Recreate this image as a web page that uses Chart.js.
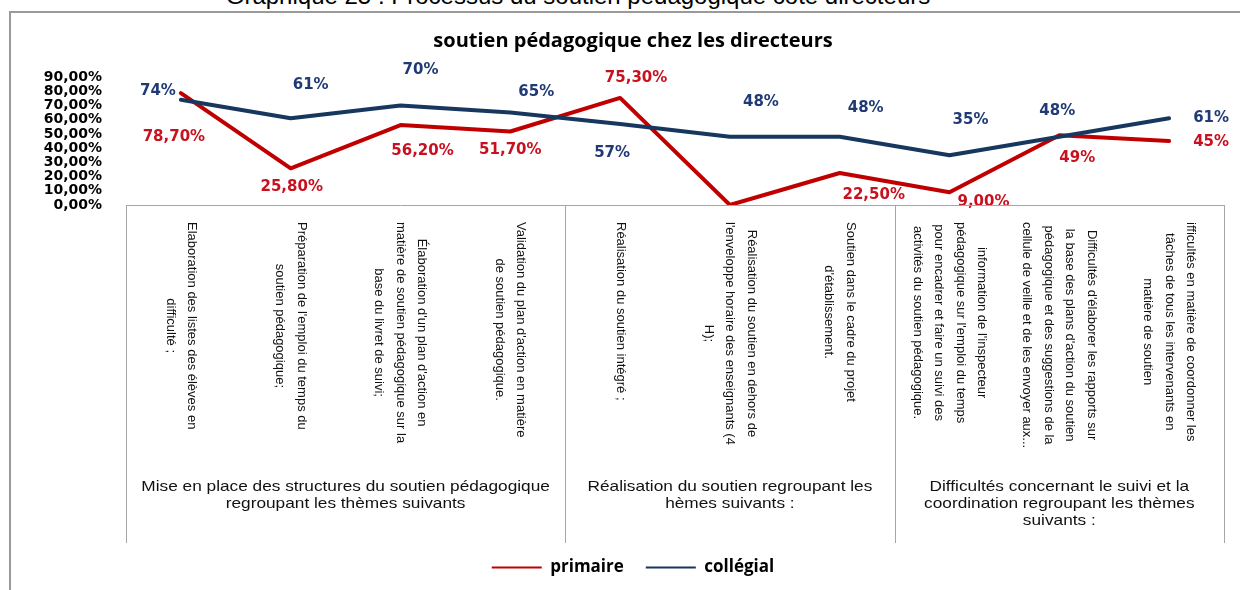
<!DOCTYPE html>
<html lang="fr">
<head>
<meta charset="utf-8">
<title>soutien pédagogique chez les directeurs</title>
<script src="https://cdn.jsdelivr.net/npm/chart.js@4.4.0/dist/chart.umd.min.js"></script>
<style>
  html, body { margin:0; padding:0; background:#fff; overflow:hidden; }
  #wrap { position:relative; width:1240px; height:590px; overflow:hidden; }
  #caption { position:absolute; left:0; width:1156px; top:-16px; text-align:center; font:24px/24px "Liberation Sans", sans-serif; color:#000; white-space:nowrap; }
  #frame { position:absolute; left:9px; top:11px; width:1300px; height:700px; border-left:2px solid #9a9a9a; border-top:2px solid #9a9a9a; }
  canvas { position:absolute; left:0; top:0; }
</style>
</head>
<body>
<div id="wrap">
  <div id="caption">Graphique 25 : Processus du soutien pédagogique côté directeurs</div>
  <div id="frame"></div>
  <canvas id="chart" width="1240" height="590"></canvas>
</div>
<script>
// categories (wrapped the way the axis shows them)
const categories = [
  ["Elaboration des listes des élèves en", "difficulté ;"],
  ["Préparation de l'emploi du temps du", "soutien pédagogique;"],
  ["Élaboration d'un plan d'action en", "matière de soutien pédagogique sur la", "base du livret de suivi;"],
  ["Validation du plan d'action en matière", "de soutien pédagogique."],
  ["Réalisation du soutien intégré ;"],
  ["Réalisation du soutien en dehors de", "l'enveloppe horaire des enseignants (4", "H);"],
  ["Soutien dans le cadre du projet", "d'établissement."],
  ["information de l'inspecteur", "pédagogique sur l'emploi du temps", "pour encadrer et faire un suivi des", "activités du soutien pédagogique."],
  ["Difficultés d'élaborer les rapports sur", "la base des plans d'action du soutien", "pédagogique et des suggestions de la", "cellule de veille et de les envoyer aux..."],
  ["ifficultés en matière de coordonner les", "tâches de tous les intervenants en", "matière de soutien"]
];
const groupNames = [
  ["Mise en place des structures du soutien pédagogique", "regroupant les thèmes suivants"],
  ["Réalisation du soutien regroupant les", "hèmes suivants :"],
  ["Difficultés concernant le suivi et la", "coordination regroupant les thèmes", "suivants :"]
];
const groupSizes = [4, 3, 3];

const primaire = [78.7, 25.8, 56.2, 51.7, 75.3, 0, 22.5, 9.0, 49, 45];
const collegial = [74, 61, 70, 65, 57, 48, 48, 35, 48, 61];
const primaireText = ["78,70%", "25,80%", "56,20%", "51,70%", "75,30%", "", "22,50%", "9,00%", "49%", "45%"];
const collegialText = ["74%", "61%", "70%", "65%", "57%", "48%", "48%", "35%", "48%", "61%"];

const yMin = 0, yMax = 90, yStep = 10;

// data labels next to the points
const pointLabels = {
  id: 'pointLabels',
  afterDatasetsDraw(chart){
    const ctx = chart.ctx;
    ctx.save();
    ctx.font = 'bold 15px "DejaVu Sans"';
    ctx.textAlign = 'center';
    ctx.textBaseline = 'middle';
    chart.data.datasets.forEach((ds, i) => {
      const meta = chart.getDatasetMeta(i);
      ctx.fillStyle = ds.labelColor;
      meta.data.forEach((pt, j) => {
        const t = ds.labelText[j];
        if(!t) return;
        const [dx, dy] = ds.labelOffsets[j];
        ctx.fillText(t, pt.x + dx, pt.y + dy);
      });
    });
    ctx.restore();
  }
};

// two-level category axis drawn as a table under the plot
const axisTable = {
  id: 'axisTable',
  afterDraw(chart){
    const {ctx, chartArea} = chart;
    const x = chart.scales.x;
    const top = chartArea.bottom, bottom = 543;
    const step = x.getPixelForValue(1) - x.getPixelForValue(0);
    ctx.save();
    ctx.strokeStyle = '#a6a6a6';
    ctx.lineWidth = 1;
    ctx.beginPath();
    ctx.moveTo(chartArea.left, Math.round(top) + 0.5);
    ctx.lineTo(chartArea.right, Math.round(top) + 0.5);
    const edges = [0];
    let k = 0;
    groupSizes.forEach(n => { k += n; edges.push(k); });
    edges.forEach(e => {
      const px = Math.round(x.getPixelForValue(e) - step / 2) + 0.5;
      ctx.moveTo(px, top);
      ctx.lineTo(px, bottom);
    });
    ctx.stroke();

    ctx.fillStyle = '#111';
    ctx.font = '13px "Liberation Sans"';
    ctx.textBaseline = 'middle';
    ctx.textAlign = 'left';
    categories.forEach((lines, i) => {
      const cx = x.getPixelForValue(i);
      const maxW = Math.max(...lines.map(l => ctx.measureText(l).width));
      lines.forEach((l, j) => {
        const lx = cx + ((lines.length - 1) / 2 - j) * 21.5;
        ctx.save();
        ctx.translate(lx, 222);
        ctx.rotate(Math.PI / 2);
        ctx.fillText(l, (maxW - ctx.measureText(l).width) / 2, 0);
        ctx.restore();
      });
    });

    ctx.font = '15px "Liberation Sans"';
    ctx.textAlign = 'center';
    let start = 0;
    groupNames.forEach((lines, g) => {
      const end = start + groupSizes[g];
      const cx = (x.getPixelForValue(start) + x.getPixelForValue(end - 1)) / 2;
      lines.forEach((l, j) => {
        ctx.save();
        ctx.translate(cx, 487 + j * 17);
        ctx.scale(1.15, 1);
        ctx.fillText(l, 0, 0);
        ctx.restore();
      });
      start = end;
    });
    ctx.restore();
  }
};

new Chart(document.getElementById('chart'), {
  type: 'line',
  data: {
    labels: categories.map(c => c.join(' ')),
    datasets: [
      { label: 'primaire', data: primaire, borderColor: '#C00000', backgroundColor: '#C00000',
        borderWidth: 4, pointRadius: 0, tension: 0, borderJoinStyle: 'round', borderCapStyle: 'round', order: 1,
        labelText: primaireText, labelColor: '#C8101E',
        labelOffsets: [[-7,44],[1,19],[22,26],[0,19],[16,-20],[0,0],[34,22],[34,10],[18,23],[42,1]] },
      { label: 'collégial', data: collegial, borderColor: '#17375E', backgroundColor: '#17375E',
        borderWidth: 4, pointRadius: 0, tension: 0, borderJoinStyle: 'round', borderCapStyle: 'round', order: 0,
        labelText: collegialText, labelColor: '#1F3A75',
        labelOffsets: [[-23,-9],[20,-33],[20,-35],[26,-20],[-8,29],[31,-35],[26,-29],[21,-35],[-2,-26],[42,0]] }
    ]
  },
  options: {
    responsive: false,
    animation: false,
    layout: { padding: { left: 42, right: 16, top: 0, bottom: 4 } },
    plugins: {
      title: { display: true, text: 'soutien pédagogique chez les directeurs', color: '#000',
        font: { family: '"Open Sans"', size: 20, weight: 'bold' }, padding: { top: 29, bottom: 24 } },
      legend: {
        position: 'bottom',
        labels: {
          boxWidth: 50, boxHeight: 2, padding: 22, color: '#000',
          font: { family: '"Open Sans"', size: 17, weight: 'bold' },
          sort: (a, b) => a.datasetIndex - b.datasetIndex,
          generateLabels(chart){
            return Chart.defaults.plugins.legend.labels.generateLabels(chart)
              .map(l => Object.assign(l, { fillStyle: l.strokeStyle, lineWidth: 0 }));
          }
        }
      },
      tooltip: { enabled: false }
    },
    scales: {
      x: { offset: true, grid: { display: false }, border: { display: false }, ticks: { display: false },
        afterFit(s){ s.height = 332; } },
      y: { min: yMin, max: yMax, grid: { display: false, drawTicks: false }, border: { display: false },
        ticks: { stepSize: yStep, autoSkip: false, padding: 24, color: '#000',
          font: { family: '"DejaVu Sans"', size: 14, weight: 'bold', lineHeight: 1 },
          callback: v => v.toFixed(2).replace('.', ',') + '%' },
        afterFit(s){ s.width = 84; } }
    }
  },
  plugins: [axisTable, pointLabels]
});
</script>
</body>
</html>
